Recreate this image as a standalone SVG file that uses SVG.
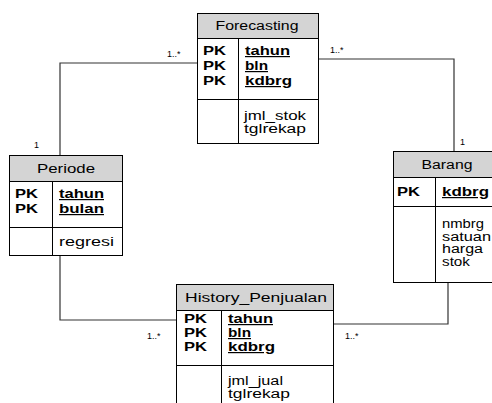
<svg xmlns="http://www.w3.org/2000/svg" width="492" height="403" viewBox="0 0 492 403">
<style>
text{font-family:"Liberation Sans",Arial,sans-serif;fill:#000}
.t{font-size:12px;text-anchor:middle}
.pk{font-size:12px;font-weight:bold}
.k{font-size:12px;font-weight:bold;text-decoration:underline}
.a{font-size:12px}
.m{font-size:9px}
.box{fill:#fff;stroke:#000;stroke-width:1}
.hd{fill:#d4d4d4;stroke:#000;stroke-width:1}
.ln{stroke:#000;stroke-width:1;fill:none}
.c{stroke:#333;stroke-width:1.2;fill:none}
</style>
<g id="connectors">
<polyline class="c" points="197,63 60,63 60,155"/>
<polyline class="c" points="319,59 454,59 454,151"/>
<polyline class="c" points="60,255 60,320 176,320"/>
<polyline class="c" points="334,324 448,324 448,283"/>
<text class="m" x="167" y="57">1..*</text>
<text class="m" x="34" y="148">1</text>
<text class="m" x="330" y="53">1..*</text>
<text class="m" x="460" y="145">1</text>
<text class="m" x="147" y="339">1..*</text>
<text class="m" x="345" y="339">1..*</text>
</g>
<g id="forecasting">
<rect class="box" x="197.5" y="13.5" width="121" height="130"/>
<rect class="hd" x="197.5" y="13.5" width="121" height="25"/>
<line class="ln" x1="197.5" y1="99.5" x2="318.5" y2="99.5"/>
<line class="ln" x1="238.5" y1="38.5" x2="238.5" y2="143.5"/>
<text class="t" x="257" y="30" textLength="83" lengthAdjust="spacingAndGlyphs">Forecasting</text>
<text class="pk" x="203" y="55" textLength="23" lengthAdjust="spacingAndGlyphs">PK</text>
<text class="pk" x="203" y="70" textLength="23" lengthAdjust="spacingAndGlyphs">PK</text>
<text class="pk" x="203" y="85" textLength="23" lengthAdjust="spacingAndGlyphs">PK</text>
<text class="k" x="245" y="55" textLength="45" lengthAdjust="spacingAndGlyphs">tahun</text>
<text class="k" x="245" y="70" textLength="23" lengthAdjust="spacingAndGlyphs">bln</text>
<text class="k" x="245" y="85" textLength="47" lengthAdjust="spacingAndGlyphs">kdbrg</text>
<text class="a" x="244" y="120" textLength="62" lengthAdjust="spacingAndGlyphs">jml_stok</text>
<text class="a" x="244" y="132.5" textLength="62" lengthAdjust="spacingAndGlyphs">tglrekap</text>
</g>
<g id="periode">
<rect class="box" x="9.5" y="155.5" width="113" height="100"/>
<rect class="hd" x="9.5" y="155.5" width="113" height="26"/>
<line class="ln" x1="9.5" y1="227.5" x2="122.5" y2="227.5"/>
<line class="ln" x1="52.5" y1="181.5" x2="52.5" y2="255.5"/>
<text class="t" x="66" y="173" textLength="58" lengthAdjust="spacingAndGlyphs">Periode</text>
<text class="pk" x="15" y="198" textLength="23" lengthAdjust="spacingAndGlyphs">PK</text>
<text class="pk" x="15" y="213" textLength="23" lengthAdjust="spacingAndGlyphs">PK</text>
<text class="k" x="59" y="198" textLength="45" lengthAdjust="spacingAndGlyphs">tahun</text>
<text class="k" x="59" y="213" textLength="45" lengthAdjust="spacingAndGlyphs">bulan</text>
<text class="a" x="59" y="246" textLength="55" lengthAdjust="spacingAndGlyphs">regresi</text>
</g>
<g id="barang">
<rect class="box" x="393.5" y="151.5" width="110" height="131"/>
<rect class="hd" x="393.5" y="151.5" width="110" height="26"/>
<line class="ln" x1="393.5" y1="206.5" x2="503.5" y2="206.5"/>
<line class="ln" x1="435.5" y1="177.5" x2="435.5" y2="282.5"/>
<text class="t" x="447" y="169" textLength="51" lengthAdjust="spacingAndGlyphs">Barang</text>
<text class="pk" x="397" y="196" textLength="23" lengthAdjust="spacingAndGlyphs">PK</text>
<text class="k" x="442" y="196" textLength="47" lengthAdjust="spacingAndGlyphs">kdbrg</text>
<text class="a" x="442" y="228" textLength="42" lengthAdjust="spacingAndGlyphs">nmbrg</text>
<text class="a" x="442" y="240.5" textLength="49" lengthAdjust="spacingAndGlyphs">satuan</text>
<text class="a" x="442" y="253" textLength="41" lengthAdjust="spacingAndGlyphs">harga</text>
<text class="a" x="442" y="265.5" textLength="28" lengthAdjust="spacingAndGlyphs">stok</text>
</g>
<g id="history_penjualan">
<rect class="box" x="176.5" y="284.5" width="157" height="130"/>
<rect class="hd" x="176.5" y="284.5" width="157" height="26"/>
<line class="ln" x1="176.5" y1="365.5" x2="333.5" y2="365.5"/>
<line class="ln" x1="221.5" y1="310.5" x2="221.5" y2="414"/>
<text class="t" x="256" y="302" textLength="142" lengthAdjust="spacingAndGlyphs">History_Penjualan</text>
<text class="pk" x="184" y="323" textLength="23" lengthAdjust="spacingAndGlyphs">PK</text>
<text class="pk" x="184" y="337" textLength="23" lengthAdjust="spacingAndGlyphs">PK</text>
<text class="pk" x="184" y="351" textLength="23" lengthAdjust="spacingAndGlyphs">PK</text>
<text class="k" x="228" y="323" textLength="45" lengthAdjust="spacingAndGlyphs">tahun</text>
<text class="k" x="228" y="337" textLength="23" lengthAdjust="spacingAndGlyphs">bln</text>
<text class="k" x="228" y="351" textLength="47" lengthAdjust="spacingAndGlyphs">kdbrg</text>
<text class="a" x="228" y="385" textLength="55" lengthAdjust="spacingAndGlyphs">jml_jual</text>
<text class="a" x="228" y="398" textLength="62" lengthAdjust="spacingAndGlyphs">tglrekap</text>
</g>
</svg>
